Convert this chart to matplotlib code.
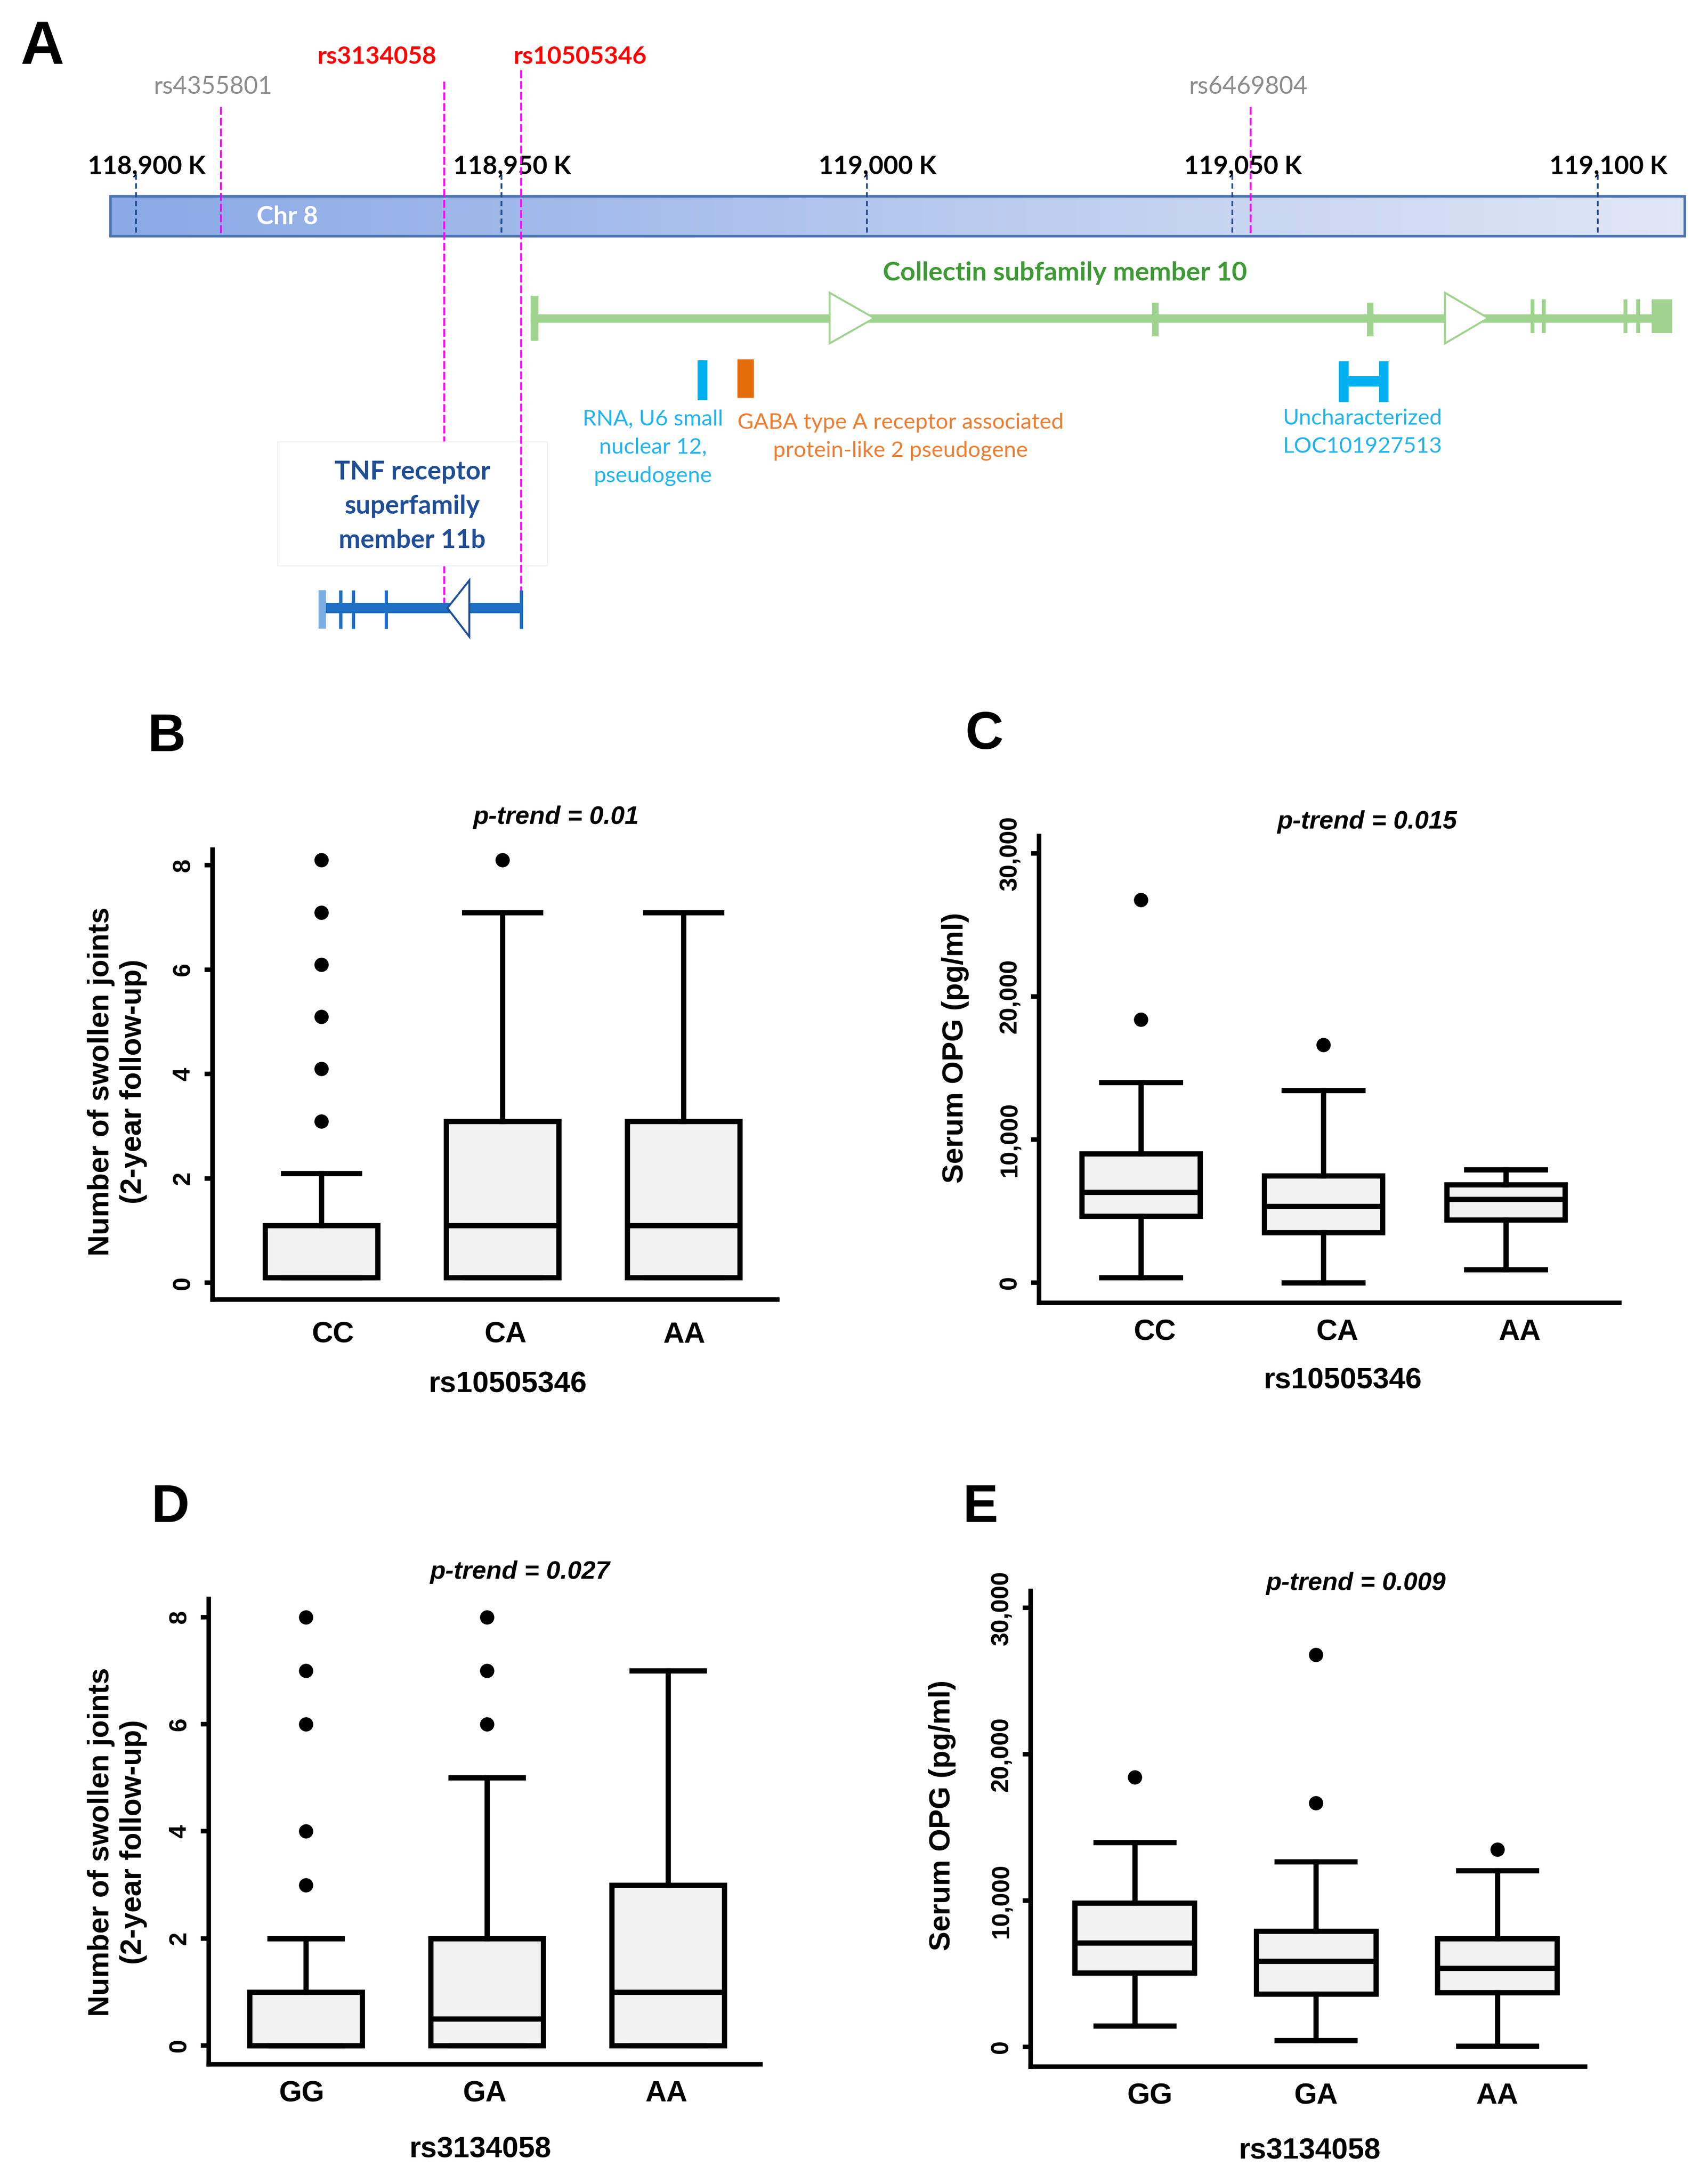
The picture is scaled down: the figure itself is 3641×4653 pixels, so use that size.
import matplotlib
matplotlib.use('Agg')
import matplotlib.pyplot as plt
import numpy as np
from matplotlib.patches import Rectangle, Polygon
from matplotlib.ticker import FuncFormatter
from matplotlib.transforms import ScaledTranslation

W, H = 3641, 4653
DPI = 300

# ------------------------------------------------------------------
# Panel A data (genomic positions in kb, chromosome 8)
# ------------------------------------------------------------------
axis_ticks_kb = [118900, 118950, 119000, 119050, 119100]
axis_tick_labels = ['118,900 K', '118,950 K', '119,000 K', '119,050 K', '119,100 K']
chr_start_kb, chr_end_kb = 118896.5, 119111.9
snp_names = ['rs4355801', 'rs3134058', 'rs10505346', 'rs6469804']
snp_pos_kb = [118911.6, 118942.2, 118952.7, 119052.5]
snp_label_kb = [118910.5, 118933.0, 118960.8, 119052.2]
snp_highlight = [False, True, True, False]

colec10_name = 'Collectin subfamily member 10'
colec10_start_kb, colec10_end_kb = 118954.0, 119110.2
colec10_exons_major = [119039.5, 119068.9]
colec10_exons_minor = [119091.1, 119092.6, 119103.8, 119105.5]
colec10_last_exon = (119107.4, 119110.2)
colec10_arrows = [(118994.9, 119001.0), (119079.1, 119085.0)]  # (base, tip)

tnf_name = 'TNF receptor\nsuperfamily\nmember 11b'
tnf_start_kb, tnf_end_kb = 118925.0, 118952.7
tnf_exons = [118928.0, 118929.7, 118934.2, 118952.7]
tnf_arrow = (118945.6, 118942.6)  # (base, tip)
tnf_box_kb = (118919.4, 118956.3)

rnu6_name = 'RNA, U6 small\nnuclear 12,\npseudogene'
rnu6_kb = (118976.8, 118978.2)
gaba_name = 'GABA type A receptor associated\nprotein-like 2 pseudogene'
gaba_kb = (118982.3, 118984.5)
loc_name = 'Uncharacterized\nLOC101927513'
loc_kb = (119064.6, 119071.4)

# ------------------------------------------------------------------
# Box-plot data (summary statistics)
# ------------------------------------------------------------------
geno_B = ['CC', 'CA', 'AA']
B_q1 = [0.1, 0.1, 0.1]
B_med = [0.1, 1.1, 1.1]
B_q3 = [1.1, 3.1, 3.1]
B_lo = [0.1, 0.1, 0.1]
B_hi = [2.1, 7.1, 7.1]
B_fliers = [[3.1, 4.1, 5.1, 6.1, 7.1, 8.1], [8.1], []]

geno_C = ['CC', 'CA', 'AA']
C_q1 = [4640, 3510, 4380]
C_med = [6330, 5360, 5840]
C_q3 = [9030, 7470, 6850]
C_lo = [360, 0, 910]
C_hi = [14000, 13440, 7890]
C_fliers = [[18400, 26750], [16620], []]

geno_D = ['GG', 'GA', 'AA']
D_q1 = [0, 0, 0]
D_med = [0, 0.5, 1]
D_q3 = [1, 2, 3]
D_lo = [0, 0, 0]
D_hi = [2, 5, 7]
D_fliers = [[3, 4, 6, 7, 8], [6, 7, 8], []]

geno_E = ['GG', 'GA', 'AA']
E_q1 = [5060, 3620, 3710]
E_med = [7120, 5860, 5370]
E_q3 = [9850, 7910, 7390]
E_lo = [1440, 460, 60]
E_hi = [13960, 12670, 12060]
E_fliers = [[18440], [16660, 26780], [13500]]

ticks_joints = [0, 2, 4, 6, 8]
ticks_opg = [0, 10000, 20000, 30000]

# ------------------------------------------------------------------
fig = plt.figure(figsize=(W / DPI, H / DPI), dpi=DPI)
fig.patch.set_facecolor('white')

SANS = ['Liberation Sans', 'DejaVu Sans']
CAL = ['Lato', 'DejaVu Sans']


def fx(x):
    return x / W


def fy(y):
    return 1 - y / H


# ---------------- Panel A ----------------
axA = fig.add_axes([0, fy(1450), 1, 1450 / H])
K0 = 118900 - 290 / 15.58
K1 = 118900 + (W - 290) / 15.58
axA.set_xlim(K0, K1)
axA.set_ylim(1450, 0)
axA.axis('off')

# chromosome bar with gradient
grad = np.linspace(0, 1, 256).reshape(1, -1)
c_left = np.array([0x8a, 0xa9, 0xe6]) / 255
c_right = np.array([0xe0, 0xe7, 0xf6]) / 255
img = c_left[None, None, :] * (1 - grad[..., None]) + c_right[None, None, :] * grad[..., None]
axA.imshow(img, extent=[chr_start_kb, chr_end_kb, 503, 418], aspect='auto', zorder=0.5)
axA.add_patch(Rectangle((chr_start_kb, 418), chr_end_kb - chr_start_kb, 85, fill=False,
                        edgecolor='#4a74b4', lw=1.3, zorder=0.6))
axA.text(118920.7, 462, 'Chr 8', color='white', fontsize=13, fontweight='bold',
         family=CAL, ha='center', va='center', zorder=1)

# axis ticks
for k, lab in zip(axis_ticks_kb, axis_tick_labels):
    axA.plot([k, k], [372, 502], color='#1f4e96', lw=0.9, ls=(0, (3, 2)), zorder=0.7)
    axA.text(k + 1.45, 355, lab, fontsize=13, fontweight='bold', family=CAL,
             ha='center', va='center', color='black')

# SNPs
snp_top = {'rs4355801': 228, 'rs3134058': 174, 'rs10505346': 150, 'rs6469804': 228}
snp_bot = {'rs4355801': 502, 'rs3134058': 1292, 'rs10505346': 1340, 'rs6469804': 502}
snp_z = {'rs4355801': 1, 'rs3134058': 1, 'rs10505346': 3, 'rs6469804': 1}
for name, pos, lpos, hl in zip(snp_names, snp_pos_kb, snp_label_kb, snp_highlight):
    axA.plot([pos, pos], [snp_top[name], snp_bot[name]], color='#ff00ff', lw=1.0,
             ls=(0, (4, 1.5)), zorder=snp_z[name])
    if hl:
        axA.text(lpos, 121, name, color='#ff0000', fontsize=12.5, fontweight='bold',
                 family=CAL, ha='center', va='center')
    else:
        axA.text(lpos, 186, name, color='#8c8c8c', fontsize=12.5, family=CAL,
                 ha='center', va='center')

# COLEC10 gene
GREEN = '#9fd38f'
axA.plot([colec10_start_kb, colec10_end_kb], [679, 679], color=GREEN, lw=4.3,
         solid_capstyle='butt', zorder=4)
axA.plot([colec10_start_kb + 0.5, colec10_start_kb + 0.5], [630, 726], color=GREEN, lw=4.0,
         solid_capstyle='butt', zorder=4)
for k in colec10_exons_major:
    axA.plot([k, k], [645, 717], color=GREEN, lw=3.3, solid_capstyle='butt', zorder=4)
for k in colec10_exons_minor:
    axA.plot([k, k], [638, 710], color=GREEN, lw=2.0, solid_capstyle='butt', zorder=4)
axA.add_patch(Rectangle((colec10_last_exon[0], 638), colec10_last_exon[1] - colec10_last_exon[0],
                        72, facecolor=GREEN, edgecolor='none', zorder=4))
for base, tip in colec10_arrows:
    axA.add_patch(Polygon([(base, 624), (base, 732), (tip, 678)], closed=True,
                          facecolor='white', edgecolor=GREEN, lw=1.0, zorder=5))
axA.text(119027.1, 582, colec10_name, color='#3f9a35', fontsize=13.5, fontweight='bold',
         family=CAL, ha='center', va='center')

# small features
CYAN = '#00b0f0'
axA.add_patch(Rectangle((rnu6_kb[0], 768), rnu6_kb[1] - rnu6_kb[0], 85, facecolor=CYAN,
                        edgecolor='none', zorder=4))
axA.add_patch(Rectangle((gaba_kb[0], 766), gaba_kb[1] - gaba_kb[0], 82, facecolor='#e46c0a',
                        edgecolor='none', zorder=4))
hw = 1.3
axA.add_patch(Rectangle((loc_kb[0], 770), hw, 87, facecolor=CYAN, edgecolor='none', zorder=4))
axA.add_patch(Rectangle((loc_kb[1] - hw, 770), hw, 87, facecolor=CYAN, edgecolor='none', zorder=4))
axA.add_patch(Rectangle((loc_kb[0], 802), loc_kb[1] - loc_kb[0], 22, facecolor=CYAN,
                        edgecolor='none', zorder=4))

axA.text(118970.7, 954, rnu6_name, color='#22b4ee', fontsize=11.3, family=CAL,
         ha='center', va='center', linespacing=1.55)
axA.text(119004.6, 931, gaba_name, color='#ed7d31', fontsize=11.3, family=CAL,
         ha='center', va='center', linespacing=1.55)
axA.text(119067.8, 922, loc_name, color='#22b4ee', fontsize=11.3, family=CAL,
         ha='center', va='center', linespacing=1.55)

# TNFRSF11B gene
axA.add_patch(Rectangle((tnf_box_kb[0], 942), tnf_box_kb[1] - tnf_box_kb[0], 264,
                        facecolor='white', edgecolor='#f0f0f0', lw=0.5, zorder=2))
axA.text(118937.8, 1079, tnf_name, color='#1f4e96', fontsize=13.3, fontweight='bold',
         family=CAL, ha='center', va='center', linespacing=1.57, zorder=2.5)
BLUE = '#1f6fc5'
axA.plot([tnf_start_kb, tnf_end_kb], [1296, 1296], color=BLUE, lw=5.3,
         solid_capstyle='butt', zorder=4)
axA.plot([tnf_start_kb + 0.5, tnf_start_kb + 0.5], [1258, 1340], color='#7aaee0', lw=3.8,
         solid_capstyle='butt', zorder=4)
for k in tnf_exons:
    axA.plot([k, k], [1258, 1340], color=BLUE, lw=1.7, solid_capstyle='butt', zorder=4)
axA.add_patch(Polygon([(tnf_arrow[0], 1237), (tnf_arrow[0], 1357), (tnf_arrow[1], 1296)],
                      closed=True, facecolor='white', edgecolor='#1f4e96', lw=1.0, zorder=5))

# panel letters
fig.text(fx(90), fy(103), 'A', fontsize=31, fontweight='bold', family=SANS,
         ha='center', va='center')

# ---------------- Box plot panels ----------------
panels = [
    dict(letter='B', lpos=(355, 1572), box=(453, 1657, 1811, 2770), xlim=(-0.601, 2.518),
         ylim=(-0.32, 8.30), cats=geno_B, q1=B_q1, med=B_med, q3=B_q3, lo=B_lo, hi=B_hi,
         fl=B_fliers, ticks=ticks_joints, width=0.62, cap=0.42, pad=11, loff=[25, 7, 2],
         title='p-trend = 0.01', tpos=(1185, 1742), xlab='rs10505346', xpos=(1083, 2951),
         ylab='Number of swollen joints\n(2-year follow-up)', ypos=(250, 2305), opg=False),
    dict(letter='C', lpos=(2098, 1567), box=(2215, 3452, 1782, 2777), xlim=(-0.558, 2.622),
         ylim=(-1410, 31213), cats=geno_C, q1=C_q1, med=C_med, q3=C_q3, lo=C_lo, hi=C_hi,
         fl=C_fliers, ticks=ticks_opg, width=0.65, cap=0.43, pad=8, loff=[30, 30, 30],
         title='p-trend = 0.015', tpos=(2914, 1752), xlab='rs10505346', xpos=(2863, 2943),
         ylab='Serum OPG (pg/ml)', ypos=(2037, 2233), opg=True),
    dict(letter='D', lpos=(363, 3215), box=(445, 1621, 3408, 4400), xlim=(-0.536, 2.51),
         ylim=(-0.35, 8.34), cats=geno_D, q1=D_q1, med=D_med, q3=D_q3, lo=D_lo, hi=D_hi,
         fl=D_fliers, ticks=ticks_joints, width=0.62, cap=0.40, pad=8, loff=[-9, -5, -4],
         title='p-trend = 0.027', tpos=(1108, 3351), xlab='rs3134058', xpos=(1024, 4582),
         ylab='Number of swollen joints\n(2-year follow-up)', ypos=(250, 3926), opg=False),
    dict(letter='E', lpos=(2090, 3215), box=(2197, 3379, 3391, 4405), xlim=(-0.574, 2.484),
         ylim=(-1346, 31154), cats=geno_E, q1=E_q1, med=E_med, q3=E_q3, lo=E_lo, hi=E_hi,
         fl=E_fliers, ticks=ticks_opg, width=0.66, cap=0.43, pad=8, loff=[32, 0, 0],
         title='p-trend = 0.009', tpos=(2890, 3375), xlab='rs3134058', xpos=(2792, 4585),
         ylab='Serum OPG (pg/ml)', ypos=(2008, 3870), opg=True),
]

LW = 2.7
for p in panels:
    l, r, t, b = p['box']
    ax = fig.add_axes([fx(l), fy(b), (r - l) / W, (b - t) / H])
    stats = []
    for i in range(3):
        stats.append(dict(med=p['med'][i], q1=p['q1'][i], q3=p['q3'][i],
                          whislo=p['lo'][i], whishi=p['hi'][i], fliers=p['fl'][i]))
    pos = np.arange(3)
    ax.bxp(stats, positions=pos, widths=p['width'], capwidths=p['cap'], patch_artist=True,
           boxprops=dict(facecolor='#f2f2f2', edgecolor='black', linewidth=LW),
           medianprops=dict(color='black', linewidth=LW),
           whiskerprops=dict(color='black', linewidth=LW),
           capprops=dict(color='black', linewidth=LW),
           flierprops=dict(marker='o', markerfacecolor='black', markeredgecolor='black',
                           markersize=6.3, linestyle='none'))
    ax.set_xlim(*p['xlim'])
    ax.set_ylim(*p['ylim'])
    for s in ['top', 'right']:
        ax.spines[s].set_visible(False)
    for s in ['left', 'bottom']:
        ax.spines[s].set_linewidth(2.3)
    ax.set_xticks(pos)
    ax.set_xticklabels(p['cats'], fontsize=15, fontweight='bold', family=SANS)
    ax.tick_params(axis='x', length=0, pad=p['pad'])
    for lab, off in zip(ax.get_xticklabels(), p['loff']):
        lab.set_transform(lab.get_transform() + ScaledTranslation(off / DPI, 0, fig.dpi_scale_trans))
    ax.set_yticks(p['ticks'])
    if p['opg']:
        ax.yaxis.set_major_formatter(FuncFormatter(lambda v, _: f'{v:,.0f}'))
    ax.tick_params(axis='y', length=4, width=2.3, pad=5)
    for lab in ax.get_yticklabels():
        lab.set_rotation(90)
        lab.set_va('center')
        lab.set_fontsize(12.5)
        lab.set_fontweight('bold')
        lab.set_family(SANS)
    ax.set_facecolor('none')

    fig.text(fx(p['lpos'][0]), fy(p['lpos'][1]), p['letter'], fontsize=27, fontweight='bold',
             family=SANS, ha='center', va='center')
    fig.text(fx(p['tpos'][0]), fy(p['tpos'][1]), p['title'], fontsize=13, fontweight='bold',
             style='italic', family=SANS, ha='center', va='center')
    fig.text(fx(p['xpos'][0]), fy(p['xpos'][1]), p['xlab'], fontsize=15, fontweight='bold',
             family=SANS, ha='center', va='center')
    fig.text(fx(p['ypos'][0]), fy(p['ypos'][1]), p['ylab'], fontsize=15, fontweight='bold',
             family=SANS, ha='center', va='center', rotation=90, multialignment='center',
             linespacing=1.2)

fig.savefig('out.png', dpi=DPI, facecolor='white')
